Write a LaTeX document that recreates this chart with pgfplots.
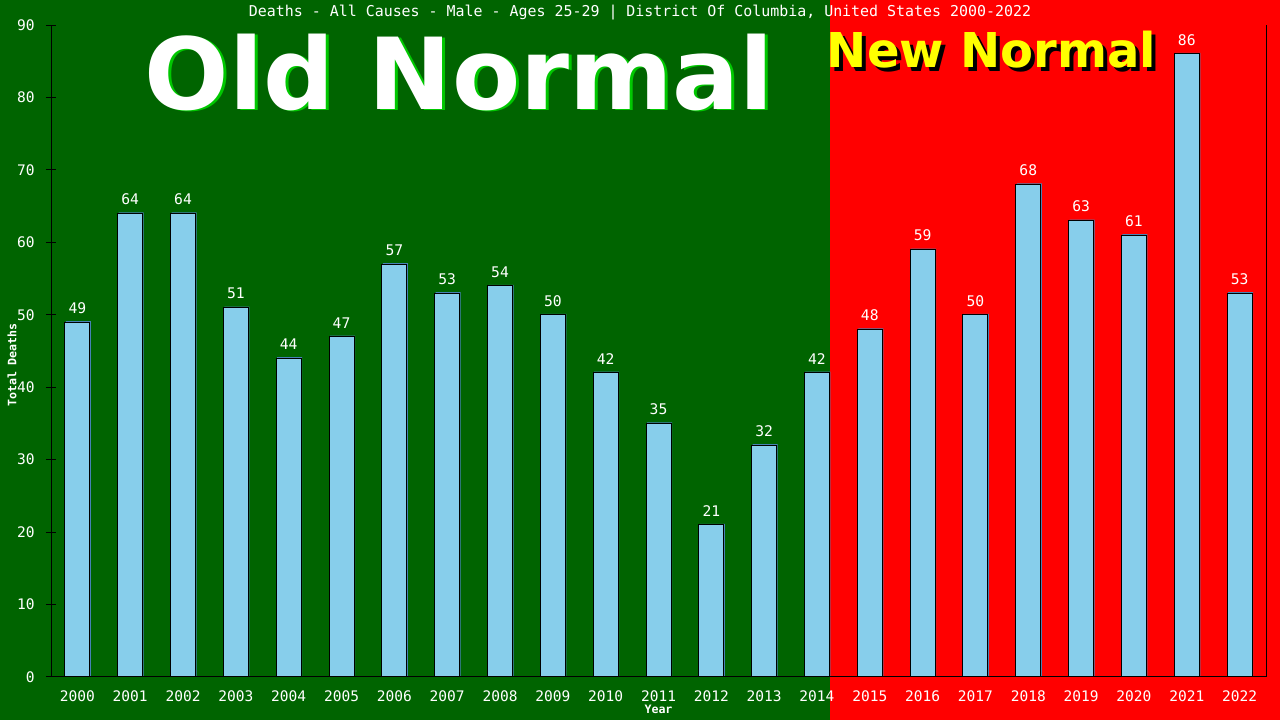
\documentclass[border=0pt]{standalone}
\usepackage{fontspec}
\setmainfont{DejaVu Sans Mono}
\newfontfamily\bigfont{DejaVu Sans}
\usepackage{pgfplots}
\pgfplotsset{compat=1.18}
\definecolor{bgg}{RGB}{0,100,0}
\definecolor{bgr}{RGB}{255,0,0}
\definecolor{barfill}{RGB}{135,206,235}
\definecolor{barshadow}{RGB}{70,130,180}
\definecolor{oldshadow}{RGB}{0,200,0}
\definecolor{newtext}{RGB}{255,255,0}
\pgfplotstableread{
x y
0 49
1 64
2 64
3 51
4 44
5 47
6 57
7 53
8 54
9 50
10 42
11 35
12 21
13 32
14 42
15 48
16 59
17 50
18 68
19 63
20 61
21 86
22 53
}\deaths
\begin{document}
\begin{tikzpicture}
\fill[bgg] (0,0) rectangle (622.5pt,540pt);
\fill[bgr] (622.5pt,0) rectangle (960pt,540pt);
% big texts
\node[anchor=base west, inner sep=0, text=oldshadow, font=\bigfont\bfseries\fontsize{74.5pt}{80pt}\selectfont] at (110.65pt,456.75pt) {Old Normal};
\node[anchor=base west, inner sep=0, text=white, font=\bigfont\bfseries\fontsize{74.5pt}{80pt}\selectfont] at (108.4pt,457.5pt) {Old Normal};
\node[anchor=base west, inner sep=0, text=black, font=\bigfont\bfseries\fontsize{36pt}{40pt}\selectfont] at (623pt,486pt) {New Normal};
\node[anchor=base west, inner sep=0, text=newtext, font=\bigfont\bfseries\fontsize{36pt}{40pt}\selectfont] at (620pt,489pt) {New Normal};
\node[text=white, font=\fontsize{11.2pt}{13pt}\selectfont, inner sep=0] at (480pt,530.25pt) {Deaths - All Causes - Male - Ages 25-29 | District Of Columbia, United States 2000-2022};
\begin{axis}[
  at={(38.25pt,32.25pt)}, anchor=south west,
  scale only axis, width=911.25pt, height=489pt,
  xmin=-0.5, xmax=22.5, ymin=0, ymax=90,
  /pgf/number format/assume math mode=true,
  axis x line*=bottom, axis y line*=left,
  axis line style={black, line width=0.75pt, -},
  ytick={0,10,...,90},
  xtick={0,...,22},
  xticklabels={2000,2001,2002,2003,2004,2005,2006,2007,2008,2009,2010,2011,2012,2013,2014,2015,2016,2017,2018,2019,2020,2021,2022},
  x tick style={draw=none},
  y tick style={black, line width=0.75pt},
  tick align=center,
  major tick length=7.5pt,
  ticklabel style={text=white, font=\fontsize{10.9pt}{12pt}\selectfont, inner sep=0},
  yticklabel style={anchor=east, xshift=-8.25pt},
  xticklabel style={anchor=north, yshift=-6pt},
  xlabel={Year},
  xlabel style={at={(axis description cs:0.5,0)}, anchor=center, yshift=-24pt, text=white, font=\bfseries\fontsize{8.7pt}{10pt}\selectfont},
  ylabel={Total Deaths},
  ylabel style={at={(axis description cs:0,0.5)}, anchor=center, yshift=29.25pt, xshift=-10.5pt, text=white, font=\bfseries\fontsize{8.7pt}{10pt}\selectfont},
  clip=false,
]
\addplot[ybar, bar width=18.75pt, fill=barshadow, draw=none, xshift=0.75pt, yshift=0.75pt] table[x=x,y=y] {\deaths};
\addplot[ybar, bar width=18.75pt, fill=barfill, draw=black, line width=0.75pt,
  nodes near coords,
  every node near coord/.append style={text=white, font=\fontsize{11pt}{12pt}\selectfont, anchor=south, inner sep=0, yshift=6pt, /pgf/number format/assume math mode=true}
] table[x=x,y=y] {\deaths};
\draw[black, line width=0.75pt] (rel axis cs:1,0) -- (rel axis cs:1,1);
\end{axis}
\pgfresetboundingbox
\path[use as bounding box] (0,0) rectangle (960pt,540pt);
\end{tikzpicture}
\end{document}
